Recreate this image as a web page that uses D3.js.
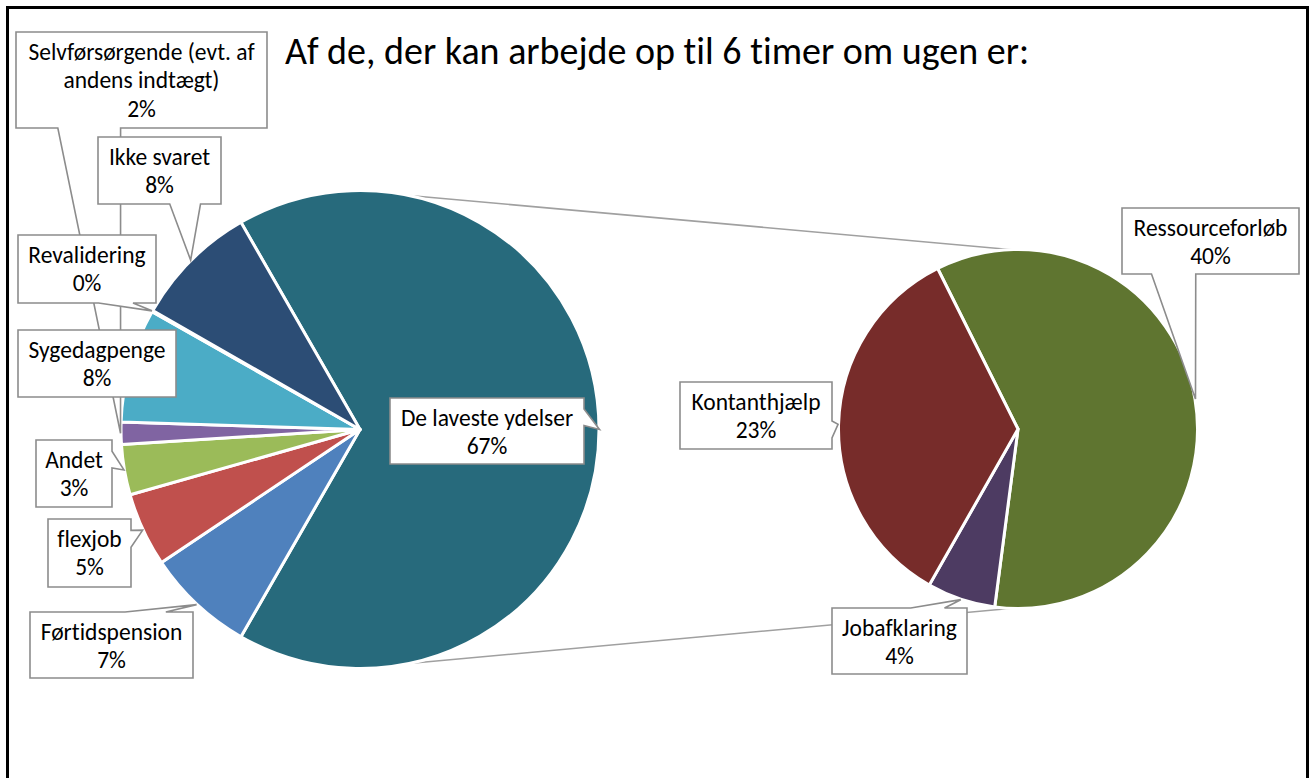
<!DOCTYPE html>
<html>
<head>
<meta charset="utf-8">
<script src="https://cdn.jsdelivr.net/npm/d3@7"></script>
<style>
  html, body { margin: 0; padding: 0; background: #fff; }
  svg { display: block; }
  text { font-family: Carlito, Calibri, Lato, "Noto Sans", sans-serif; fill: #000;
         font-variant-ligatures: none; font-feature-settings: "liga" 0, "clig" 0; }
</style>
</head>
<body>
<svg id="chart" width="1309" height="778"></svg>
<script>
// ---- data ----
const title = "Af de, der kan arbejde op til 6 timer om ugen er:";

// first pie (the composite slice "De laveste ydelser" is split into the second pie)
const mainCategories = [
  "De laveste ydelser",
  "Førtidspension",
  "flexjob",
  "Andet",
  "Selvførsørgende (evt. af\nandens indtægt)",
  "Sygedagpenge",
  "Revalidering",
  "Ikke svaret"
];
const mainValues = [66.6, 7.3, 5.0, 3.4, 1.5, 7.7, 0.1, 8.4];
const mainColors = ["#276A7C", "#4F81BD", "#C0504D", "#9BBB59", "#8064A2", "#4BACC6", "#F79646", "#2C4D75"];

// second pie (breakdown of "De laveste ydelser")
const subCategories = ["Ressourceforløb", "Jobafklaring", "Kontanthjælp"];
const subValues = [39.6, 4.1, 22.9];
const subColors = ["#5F7530", "#4D3B62", "#772C2A"];

// ---- layout ----
const svg = d3.select("#chart");
const W = 1309, H = 778;
const main = { cx: 360, cy: 429.5, r: 239 };
const sub  = { cx: 1018, cy: 429, r: 179.5 };
const labelFont = 23.5, lineGap = 28.7;

// label boxes [x, y, w, h]
const mainBoxes = {
  "De laveste ydelser": [390, 398, 194, 66],
  "Førtidspension": [30, 612, 163, 66],
  "flexjob": [48, 519, 83, 68],
  "Andet": [36, 440, 76, 67],
  "Selvførsørgende (evt. af\nandens indtægt)": [16, 32, 251, 96],
  "Sygedagpenge": [18, 330, 158, 67],
  "Revalidering": [18, 235, 138, 68],
  "Ikke svaret": [98, 137, 123, 67]
};
const subBoxes = {
  "Ressourceforløb": [1122, 208, 177, 66],
  "Jobafklaring": [832, 608, 135, 66],
  "Kontanthjælp": [680, 382, 152, 67]
};

svg.append("rect").attr("x", 0).attr("y", 0).attr("width", W).attr("height", H).attr("fill", "#fff");

// outer frame
svg.append("rect")
  .attr("x", 7.5).attr("y", 7.5).attr("width", 1300).attr("height", 800)
  .attr("fill", "none").attr("stroke", "#000").attr("stroke-width", 3);

// title
svg.append("text")
  .attr("x", 657).attr("y", 64)
  .attr("text-anchor", "middle")
  .attr("font-size", 38)
  .text(title);

// connector lines: external tangents of the two circles
(function () {
  const dx = sub.cx - main.cx, dy = sub.cy - main.cy;
  const d = Math.hypot(dx, dy);
  const base = Math.atan2(dy, dx);
  const r1 = main.r - 1.5, r2 = sub.r - 1.5;
  const phi = Math.asin((r1 - r2) / d);
  [-1, 1].forEach(s => {
    const nx = Math.cos(base + s * (Math.PI / 2 - phi));
    const ny = Math.sin(base + s * (Math.PI / 2 - phi));
    svg.append("line")
      .attr("x1", main.cx + r1 * nx).attr("y1", main.cy + r1 * ny)
      .attr("x2", sub.cx + r2 * nx).attr("y2", sub.cy + r2 * ny)
      .attr("stroke", "#a0a0a0").attr("stroke-width", 1.6);
  });
})();

// pies
function drawPie(cfg, cats, vals, cols, startAngle) {
  const pie = d3.pie().sort(null).value(d => d.v)
    .startAngle(startAngle).endAngle(startAngle + 2 * Math.PI);
  const arcs = pie(cats.map((c, i) => ({ c, v: vals[i], col: cols[i] })));
  const arc = d3.arc().innerRadius(0).outerRadius(cfg.r);
  const g = svg.append("g").attr("transform", `translate(${cfg.cx},${cfg.cy})`);
  g.selectAll("path").data(arcs).join("path")
    .attr("d", arc)
    .attr("fill", d => d.data.col)
    .attr("stroke", "#fff").attr("stroke-width", 3).attr("stroke-linejoin", "round");
  return arcs;
}

const mainFrac = mainValues[0] / d3.sum(mainValues);
const mainStart = Math.PI / 2 - mainFrac * Math.PI; // composite slice centred at 3 o'clock
const mainArcs = drawPie(main, mainCategories, mainValues, mainColors, mainStart);
const subStart = -26.6 * Math.PI / 180;
const subArcs = drawPie(sub, subCategories, subValues, subColors, subStart);

// callout shape (wedge rectangle callout)
function calloutPath(x, y, w, h, tx, ty) {
  const hc = x + w / 2, vc = y + h / 2;
  const dxPos = tx - hc, dyPos = ty - vc;
  const inside = tx >= x && tx <= x + w && ty >= y && ty <= y + h;
  if (inside) return `M${x},${y}H${x + w}V${y + h}H${x}Z`;
  const dq = dxPos * h / w;
  const dz = Math.abs(dyPos) - Math.abs(dq);
  const x1 = x + w * (dxPos > 0 ? 7 : 2) / 12, x2 = x + w * (dxPos > 0 ? 10 : 5) / 12;
  const y1 = y + h * (dyPos > 0 ? 7 : 2) / 12, y2 = y + h * (dyPos > 0 ? 10 : 5) / 12;
  const R = x + w, B = y + h;
  if (dz > 0 && dyPos < 0)
    return `M${x},${y}L${x1},${y}L${tx},${ty}L${x2},${y}L${R},${y}L${R},${B}L${x},${B}Z`;
  if (dz > 0)
    return `M${x},${y}L${R},${y}L${R},${B}L${x2},${B}L${tx},${ty}L${x1},${B}L${x},${B}Z`;
  if (dxPos < 0)
    return `M${x},${y}L${R},${y}L${R},${B}L${x},${B}L${x},${y2}L${tx},${ty}L${x},${y1}Z`;
  return `M${x},${y}L${R},${y}L${R},${y1}L${tx},${ty}L${R},${y2}L${R},${B}L${x},${B}Z`;
}

function drawLabels(cfg, arcs, boxes) {
  const tipArc = d3.arc().innerRadius(cfg.r + 0.5).outerRadius(cfg.r + 0.5);
  arcs.forEach(d => {
    const b = boxes[d.data.c];
    if (!b) return;
    const [x, y, w, h] = b;
    const c = tipArc.centroid(d);
    const tx = cfg.cx + c[0], ty = cfg.cy + c[1];
    const g = svg.append("g");
    g.append("path")
      .attr("d", calloutPath(x, y, w, h, tx, ty))
      .attr("fill", "#fff").attr("stroke", "#8c8c8c").attr("stroke-width", 1.6)
      .attr("stroke-linejoin", "miter");
    const lines = d.data.c.split("\n").concat([Math.round(d.data.v) + "%"]);
    lines.forEach((t, i) => {
      g.append("text")
        .attr("x", x + w / 2).attr("y", y + 27.5 + i * lineGap)
        .attr("text-anchor", "middle")
        .attr("font-size", labelFont)
        .text(t);
    });
  });
}
drawLabels(main, mainArcs, mainBoxes);
drawLabels(sub, subArcs, subBoxes);
</script>
</body>
</html>
